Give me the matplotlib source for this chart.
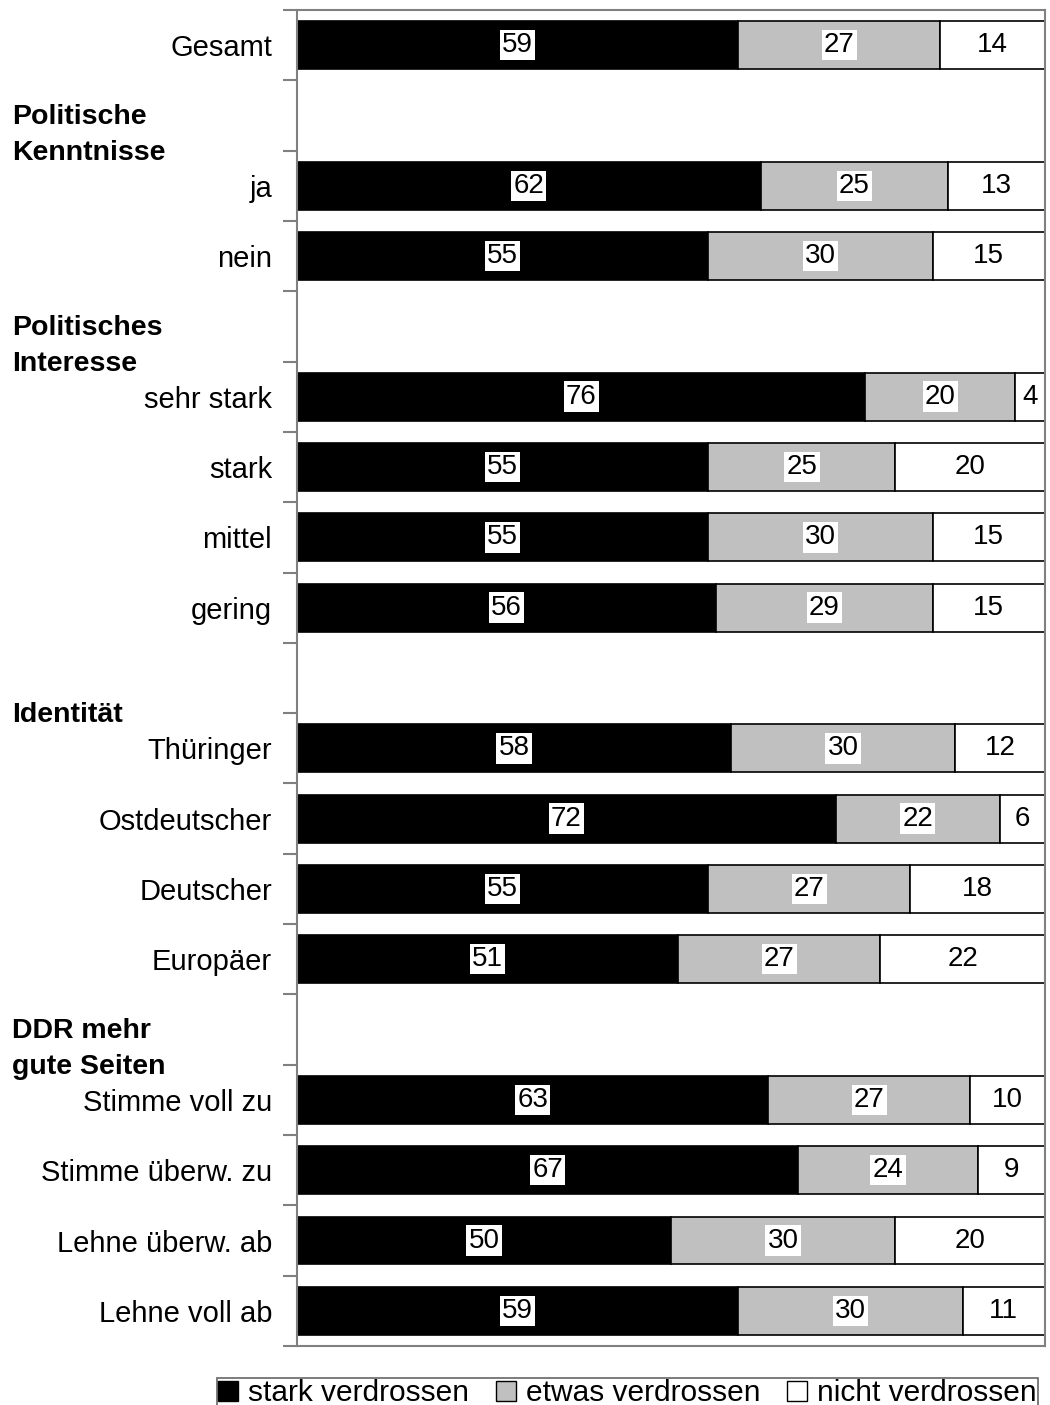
import numpy as np
import matplotlib.pyplot as plt
from matplotlib.patches import Patch
from matplotlib.transforms import blended_transform_factory

plt.rcParams['font.family'] = ['Liberation Sans', 'DejaVu Sans']

# =========================
# Data
# =========================
categories = ["Gesamt", "ja", "nein", "sehr stark", "stark", "mittel", "gering",
              "Thüringer", "Ostdeutscher", "Deutscher", "Europäer",
              "Stimme voll zu", "Stimme überw. zu", "Lehne überw. ab", "Lehne voll ab"]
stark = [59, 62, 55, 76, 55, 55, 56, 58, 72, 55, 51, 63, 67, 50, 59]
etwas = [27, 25, 30, 20, 25, 30, 29, 30, 22, 27, 27, 27, 24, 30, 30]
nicht = [14, 13, 15, 4, 20, 15, 15, 12, 6, 18, 22, 10, 9, 20, 11]

# group headers sit in empty rows (row index -> title)
header_rows = [1, 4, 9, 14]
header_titles = ["Politische\nKenntnisse", "Politisches\nInteresse", "Identität",
                 "DDR mehr\ngute Seiten"]

series_names = ["stark verdrossen", "etwas verdrossen", "nicht verdrossen"]
colors = ["#000000", "#c0c0c0", "#ffffff"]

n_rows = len(categories) + len(header_rows)
positions = [i for i in range(n_rows) if i not in header_rows]

# =========================
# Plot
# =========================
fig = plt.figure(figsize=(10.5, 14.05), dpi=100)
ax = fig.add_axes([0.2829, 0.042, 0.7123, 0.9509])

left = np.zeros(len(categories))
for vals, col in zip([stark, etwas, nicht], colors):
    vals = np.array(vals, dtype=float)
    ax.barh(positions, vals, left=left, height=0.68, color=col,
            edgecolor="black", linewidth=1.2)
    for y, l, v in zip(positions, left, vals):
        ax.text(l + v / 2, y, f"{int(v)}", ha="center", va="center",
                fontsize=20, color="black",
                bbox=dict(boxstyle="square,pad=0.08", facecolor="white",
                          edgecolor="none"))
    left += vals

ax.set_xlim(0, 100)
ax.set_ylim(n_rows - 0.5, -0.5)
ax.set_xticks([])

# major ticks at row boundaries, labels on minor ticks at row centres
ax.set_yticks(np.arange(-0.5, n_rows, 1.0))
ax.set_yticklabels([])
ax.tick_params(axis="y", which="major", length=10, width=1.5,
               color="#808080", direction="out")
ax.set_yticks(positions, minor=True)
ax.set_yticklabels(categories, minor=True, fontsize=21)
ax.tick_params(axis="y", which="minor", length=0, pad=18)

for sp in ax.spines.values():
    sp.set_color("#808080")
    sp.set_linewidth(1.5)

# bold group headers
trans = blended_transform_factory(fig.transFigure, ax.transData)
for r, title in zip(header_rows, header_titles):
    ax.text(12 / 1050, r + 0.5 + 0.13, title, transform=trans,
            ha="left", va="baseline", fontsize=20.5, fontweight="bold",
            linespacing=1.5)

# legend
handles = [Patch(facecolor=c, edgecolor="black", linewidth=1) for c in colors]
leg = fig.legend(handles, series_names, loc="upper left",
                 bbox_to_anchor=(217 / 1050, 1 - 1378 / 1405), ncol=3,
                 fontsize=21.5, frameon=True, fancybox=False,
                 handlelength=0.65, handleheight=0.65, handletextpad=0.35,
                 columnspacing=0.9, borderpad=0.05, borderaxespad=0)
leg.get_frame().set_edgecolor("#404040")
leg.get_frame().set_linewidth(1.2)

plt.savefig("out.png", dpi=100)
